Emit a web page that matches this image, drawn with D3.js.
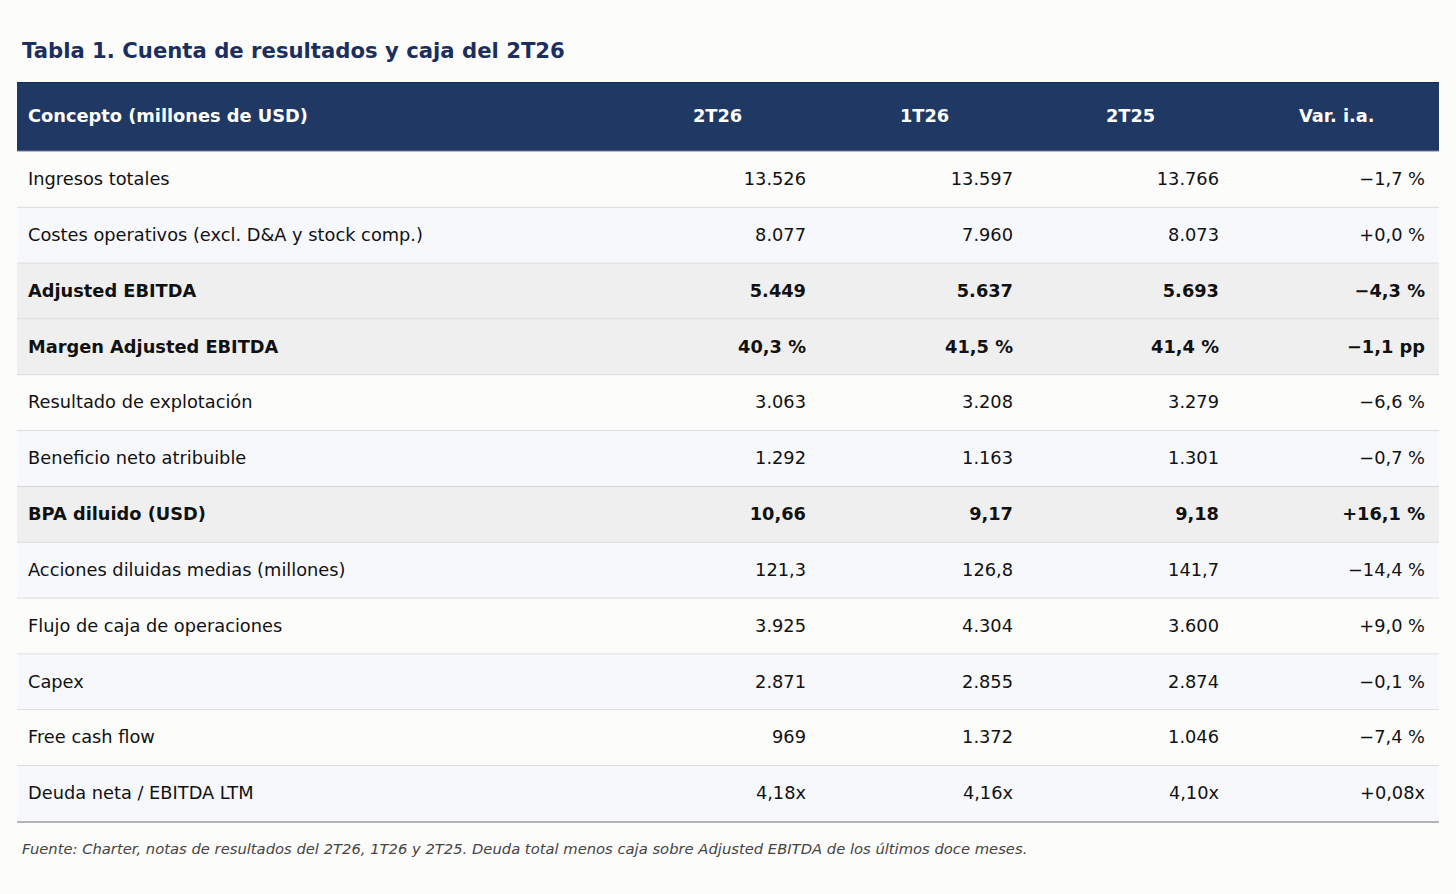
<!DOCTYPE html>
<html><head><meta charset="utf-8">
<script src="https://cdn.jsdelivr.net/npm/d3@7"></script>
<style>
html,body{margin:0;padding:0;background:#fcfcfb;}
svg{display:block;font-family:"DejaVu Sans",sans-serif;}
</style></head>
<body>
<svg id="chart" width="1456" height="894"></svg>
<script>
const title = "Tabla 1. Cuenta de resultados y caja del 2T26";
const footnote = "Fuente: Charter, notas de resultados del 2T26, 1T26 y 2T25. Deuda total menos caja sobre Adjusted EBITDA de los últimos doce meses.";
const headers = ["Concepto (millones de USD)", "2T26", "1T26", "2T25", "Var. i.a."];
const concepts = ["Ingresos totales","Costes operativos (excl. D&A y stock comp.)","Adjusted EBITDA","Margen Adjusted EBITDA","Resultado de explotación","Beneficio neto atribuible","BPA diluido (USD)","Acciones diluidas medias (millones)","Flujo de caja de operaciones","Capex","Free cash flow","Deuda neta / EBITDA LTM"];
const q2_26 = ["13.526","8.077","5.449","40,3 %","3.063","1.292","10,66","121,3","3.925","2.871","969","4,18x"];
const q1_26 = ["13.597","7.960","5.637","41,5 %","3.208","1.163","9,17","126,8","4.304","2.855","1.372","4,16x"];
const q2_25 = ["13.766","8.073","5.693","41,4 %","3.279","1.301","9,18","141,7","3.600","2.874","1.046","4,10x"];
const yoy = ["\u22121,7 %","+0,0 %","\u22124,3 %","\u22121,1 pp","\u22126,6 %","\u22120,7 %","+16,1 %","\u221214,4 %","+9,0 %","\u22120,1 %","\u22127,4 %","+0,08x"];
const highlighted = ["Adjusted EBITDA","Margen Adjusted EBITDA","BPA diluido (USD)"];

const rows = concepts.map((c,i)=>({concept:c, vals:[q2_26[i],q1_26[i],q2_25[i],yoy[i]], bold:highlighted.includes(c), i}));

const svg = d3.select("#chart");
const L = 17, R = 1439, headTop = 82, headBot = 152, tableBot = 822;

const y = d3.scaleBand().domain(d3.range(rows.length)).range([headBot, tableBot]).padding(0);
const valRight = d3.scaleOrdinal().domain([0,1,2,3]).range([806,1013,1219,1425]);
const headX = [28, 693, 900, 1106, 1299];

svg.append("text").attr("x",22).attr("y",58).attr("fill","#1b2f5e")
  .attr("font-size","21.2px").attr("font-weight","bold").text(title);

svg.append("rect").attr("x",L).attr("y",headTop).attr("width",R-L).attr("height",headBot-headTop-1).attr("fill","#203864");
svg.append("line").attr("x1",L).attr("x2",R).attr("y1",headTop+0.5).attr("y2",headTop+0.5).attr("stroke","#142a52").attr("stroke-width",1);
svg.append("line").attr("x1",L).attr("x2",R).attr("y1",headBot-0.5).attr("y2",headBot-0.5).attr("stroke","#b9bcc4").attr("stroke-width",1.5);

svg.selectAll("text.head").data(headers).join("text").attr("class","head")
  .attr("x",(d,i)=>headX[i]).attr("y",(headTop+headBot)/2 - 1).attr("dy","0.35em")
  .attr("fill","#ffffff").attr("font-weight","bold").attr("font-size","17.8px").text(d=>d);

const g = svg.selectAll("g.row").data(rows).join("g").attr("class","row")
  .attr("transform",d=>`translate(0,${y(d.i)})`);
g.append("rect").attr("x",L).attr("y",0).attr("width",R-L).attr("height",y.bandwidth())
  .attr("fill",d=>d.bold?"#efefef":(d.i%2===1?"#f7f8fc":"#fcfcfb"));
g.filter(d=>d.i<rows.length-1).append("line").attr("x1",L).attr("x2",R)
  .attr("y1",y.bandwidth()-0.5).attr("y2",y.bandwidth()-0.5).attr("stroke","#d6d6d6").attr("stroke-width",1);
g.append("text").attr("x",28).attr("y",y.bandwidth()/2 - 1).attr("dy","0.35em")
  .attr("font-size","17.8px").attr("font-weight",d=>d.bold?"bold":"normal").attr("fill","#111")
  .text(d=>d.concept);
g.selectAll("text.val").data(d=>d.vals.map((v,k)=>({v,k,bold:d.bold}))).join("text").attr("class","val")
  .attr("x",d=>valRight(d.k)).attr("y",y.bandwidth()/2 - 1).attr("dy","0.35em").attr("text-anchor","end")
  .attr("font-size","17.8px").attr("font-weight",d=>d.bold?"bold":"normal").attr("fill","#111")
  .text(d=>d.v);

svg.append("line").attr("x1",L).attr("x2",R).attr("y1",tableBot).attr("y2",tableBot).attr("stroke","#b4b4b8").attr("stroke-width",2);

svg.append("text").attr("x",22).attr("y",849).attr("dy","0.35em").attr("font-size","14.75px")
  .attr("font-style","italic").attr("fill","#444").text(footnote);
</script>
</body></html>
